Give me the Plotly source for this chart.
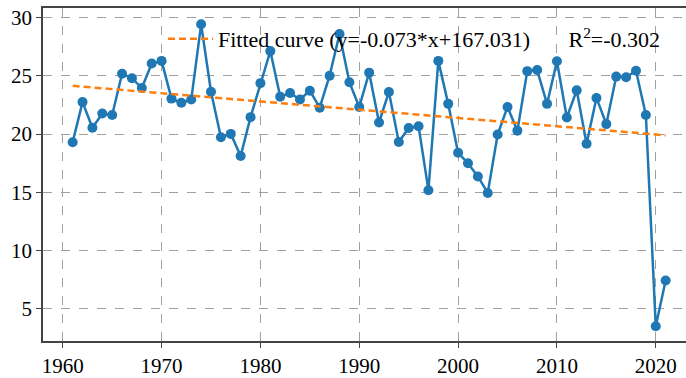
import plotly.graph_objects as go

years = list(range(1961, 2022))
values = [19.3, 22.75, 20.55, 21.77, 21.65, 25.19, 24.8, 23.96, 26.06, 26.29,
          23.05, 22.69, 22.97, 29.43, 23.64, 19.74, 20.02, 18.12, 21.46, 24.38,
          27.13, 23.22, 23.53, 22.97, 23.73, 22.27, 25.02, 28.59, 24.46, 22.33,
          25.28, 21.0, 23.62, 19.32, 20.53, 20.68, 15.19, 26.29, 22.6, 18.4,
          17.5, 16.37, 14.95, 19.97, 22.33, 20.3, 25.41, 25.5, 22.6, 26.26,
          21.43, 23.76, 19.18, 23.11, 20.86, 24.94, 24.88, 25.44, 21.65, 3.51,
          7.44]
trend_x = [1961, 2021]
trend_y = [24.15, 19.9]
legend_label = "Fitted curve (y=-0.073*x+167.031)       R<sup>2</sup>=-0.302"
x_ticks = [1960, 1970, 1980, 1990, 2000, 2010, 2020]
y_ticks = [5, 10, 15, 20, 25, 30]

tick_font = dict(family="Liberation Serif", size=21, color="black")

fig = go.Figure()
fig.add_trace(go.Scatter(
    x=years, y=values, mode="lines+markers",
    line=dict(color="#1f77b4", width=2.5),
    marker=dict(color="#1f77b4", size=10),
    showlegend=False,
))
fig.add_trace(go.Scatter(
    x=trend_x, y=trend_y, mode="lines",
    line=dict(color="#ff7f0e", width=2.5, dash="7px,4px"),
    name=legend_label, showlegend=True,
))

fig.update_layout(
    width=686, height=378,
    margin=dict(l=43, r=0, t=8, b=30),
    paper_bgcolor="white", plot_bgcolor="white",
    font=dict(family="Liberation Serif", size=21, color="black"),
    legend=dict(x=0.1866, y=0.907, xanchor="left", yanchor="middle",
                itemwidth=45,
                bgcolor="rgba(0,0,0,0)", borderwidth=0,
                font=dict(family="Liberation Serif", size=22, color="black")),
    xaxis=dict(range=[1958.0, 2023.06], tickvals=x_ticks, tickfont=tick_font,
               showline=True, linecolor="#444", linewidth=1.5, mirror=True,
               ticks="outside", ticklen=5, tickcolor="#444",
               showgrid=True, gridcolor="#a0a0a0", griddash="dash", gridwidth=1,
               zeroline=False),
    yaxis=dict(range=[2.24, 30.83], tickvals=y_ticks, tickfont=tick_font,
               showline=True, linecolor="#444", linewidth=1.5,
               ticks="outside", ticklen=5, tickcolor="#444",
               showgrid=True, gridcolor="#a0a0a0", griddash="dash", gridwidth=1,
               zeroline=False),
)

fig.write_html("out.html")
